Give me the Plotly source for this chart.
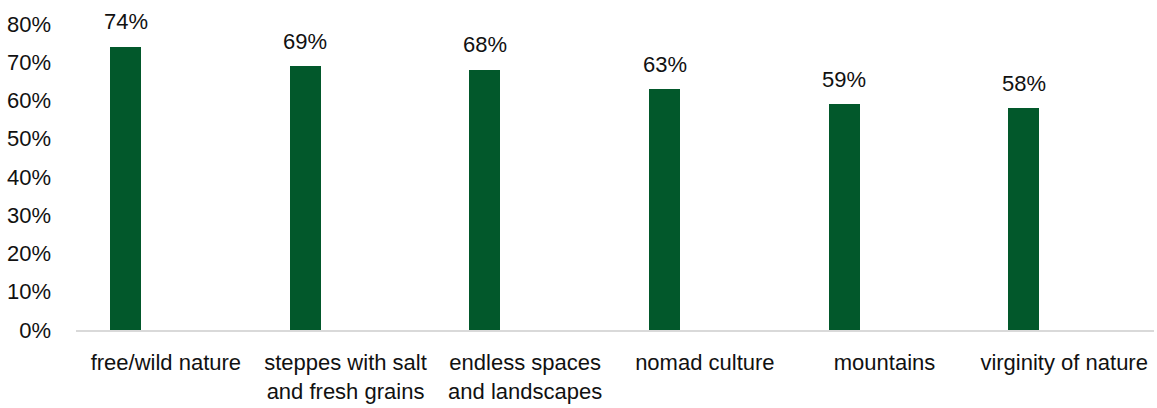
import plotly.graph_objects as go

categories = [
    "free/wild nature",
    "steppes with salt<br>and fresh grains",
    "endless spaces<br>and landscapes",
    "nomad culture",
    "mountains",
    "virginity of nature",
]
values = [74, 69, 68, 63, 59, 58]
y_ticks = [0, 10, 20, 30, 40, 50, 60, 70, 80]
y_tick_labels = [f"{v}%" for v in y_ticks]

BAR_COLOR = "#02582b"
TEXT_COLOR = "#111111"
FONT = "Liberation Sans, Arial, sans-serif"
FONT_SIZE = 22

bar_width = 0.1725
bar_offset = -0.3105

fig = go.Figure(
    go.Bar(
        x=categories,
        y=values,
        width=bar_width,
        offset=bar_offset,
        marker=dict(color=BAR_COLOR, line=dict(width=0)),
        hoverinfo="skip",
    )
)

# value labels above each bar
for i, v in enumerate(values):
    fig.add_annotation(
        x=i + bar_offset + bar_width / 2,
        y=v,
        text=f"{v}%",
        showarrow=False,
        yanchor="middle",
        xanchor="center",
        yshift=25,
        font=dict(family=FONT, size=FONT_SIZE, color=TEXT_COLOR),
    )

fig.update_layout(
    width=1157,
    height=408,
    margin=dict(l=76, r=3, t=24, b=78),
    paper_bgcolor="white",
    plot_bgcolor="white",
    showlegend=False,
    font=dict(family=FONT, size=FONT_SIZE, color=TEXT_COLOR),
    bargap=0,
)
fig.update_xaxes(
    type="category",
    range=[-0.5, len(categories) - 0.5],
    showline=True,
    linecolor="#d9d9d9",
    linewidth=2,
    showgrid=False,
    ticks="",
    ticklabelstandoff=12,
    tickfont=dict(family=FONT, size=FONT_SIZE, color=TEXT_COLOR),
)
fig.update_yaxes(
    range=[0, 80],
    tickvals=y_ticks,
    ticktext=y_tick_labels,
    showline=False,
    showgrid=False,
    zeroline=False,
    ticks="",
    ticklabelstandoff=24,
    tickfont=dict(family=FONT, size=FONT_SIZE, color=TEXT_COLOR),
)

fig.write_html("out.html")
